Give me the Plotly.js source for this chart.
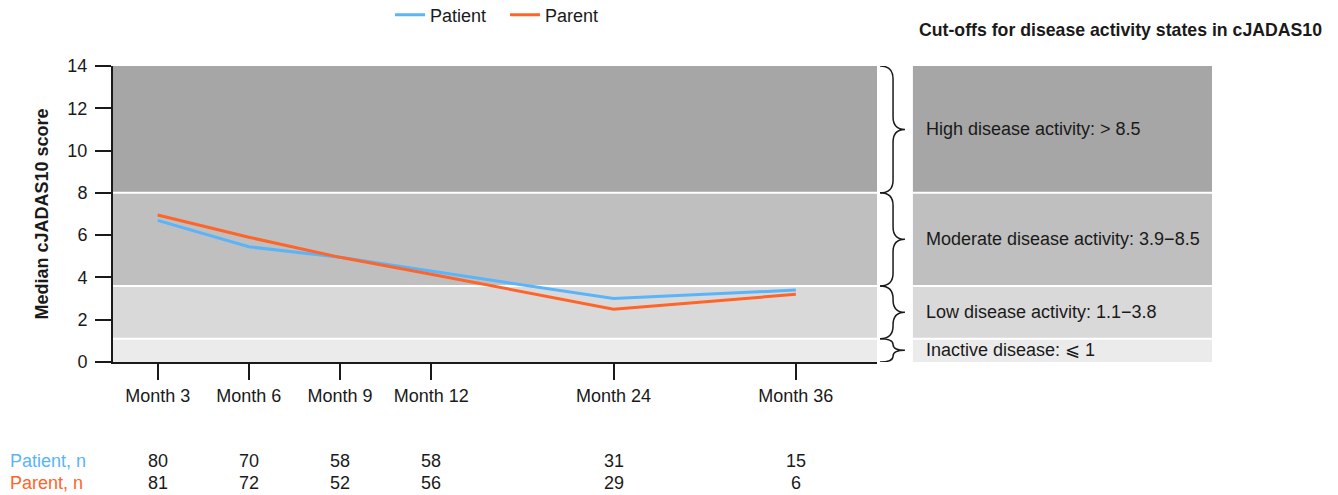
<!DOCTYPE html>
<html><head><meta charset="utf-8">
<script src="https://cdn.plot.ly/plotly-3.0.1.min.js"></script>
<style>body{margin:0;background:#fff}#chart{width:1338px;height:495px}</style>
</head><body><div id="chart"></div>
<script>
// ---- data ----
var months = ['Month 3','Month 6','Month 9','Month 12','Month 24','Month 36'];
var monthSlots = [0, 1, 2, 3, 5, 7];           // ordinal slot on the axis (12->24 and 24->36 span two slots)
var patient = [6.7, 5.45, 4.95, 4.3, 3.0, 3.4];
var parent  = [6.95, 5.9, 4.95, 4.15, 2.5, 3.2];
var patientN = [80, 70, 58, 58, 31, 15];
var parentN  = [81, 72, 52, 56, 29, 6];
var bandEdges  = [0, 1.1, 3.6, 8, 14];
var bandColors = ['#ebebeb', '#d9d9d9', '#bfbfbf', '#a6a6a6'];
var bandLabels = ['Inactive disease: \u2A7D 1', 'Low disease activity: 1.1\u22123.8',
                  'Moderate disease activity: 3.9\u22128.5', 'High disease activity: > 8.5'];
var yTicks = [0, 2, 4, 6, 8, 10, 12, 14];

var blue = '#5ab4fa', orange = '#ff6428', ink = '#1a1a1a';
var FONT = 'Liberation Sans, Arial, Helvetica, sans-serif';

var traces = [
  {x: monthSlots, y: patient, name: 'Patient', mode: 'lines', line: {color: blue, width: 3}},
  {x: monthSlots, y: parent,  name: 'Parent',  mode: 'lines', line: {color: orange, width: 3}}
];

var shapes = [], annotations = [];
// panel geometry (paper units)
var rpX0 = 1.047, rpX1 = 1.4385;
var brL = 1.004, brM = 1.021, brT = 1.0366;
for (var i = 0; i < bandColors.length; i++) {
  var lo = bandEdges[i], hi = bandEdges[i+1];
  shapes.push({type:'rect', xref:'paper', yref:'y', x0:0, x1:1, y0:lo, y1:hi,
               fillcolor:bandColors[i], line:{width:0}, layer:'below'});
  shapes.push({type:'rect', xref:'paper', yref:'y', x0:rpX0, x1:rpX1, y0:lo, y1:hi,
               fillcolor:bandColors[i], line:{width:0}, layer:'below'});
  if (i > 0) {
    shapes.push({type:'line', xref:'paper', yref:'y', x0:0, x1:1, y0:lo, y1:lo,
                 line:{color:'#ffffff', width:2}, layer:'below'});
    shapes.push({type:'line', xref:'paper', yref:'y', x0:rpX0, x1:rpX1, y0:lo, y1:lo,
                 line:{color:'#ffffff', width:2}, layer:'below'});
  }
  // brace
  var mid = (lo + hi) / 2;
  var r = Math.min(0.6, (hi - lo) / 4);
  var p = 'M' + brL + ',' + hi +
          ' Q' + brM + ',' + hi + ' ' + brM + ',' + (hi - r) +
          ' L' + brM + ',' + (mid + r) +
          ' Q' + brM + ',' + mid + ' ' + brT + ',' + mid +
          ' Q' + brM + ',' + mid + ' ' + brM + ',' + (mid - r) +
          ' L' + brM + ',' + (lo + r) +
          ' Q' + brM + ',' + lo + ' ' + brL + ',' + lo;
  shapes.push({type:'path', xref:'paper', yref:'y', path:p, line:{color:ink, width:1.5}});
  annotations.push({xref:'paper', yref:'y', x:rpX0 + 0.015, y:mid, xanchor:'left', yanchor:'middle',
                    text:bandLabels[i], showarrow:false, font:{family:FONT, size:18, color:ink}});
}

annotations.push({xref:'paper', yref:'paper', x:1.0524, y:1.122, xanchor:'left', yanchor:'middle',
                  text:'<b>Cut-offs for disease activity states in cJADAS10</b>', showarrow:false,
                  font:{family:FONT, size:17.7, color:ink}});

// n table
annotations.push({xref:'paper', yref:'paper', x:-0.1374, y:-0.3345, xanchor:'left', yanchor:'middle',
                  text:'Patient, n', showarrow:false, font:{family:FONT, size:18, color:blue}});
annotations.push({xref:'paper', yref:'paper', x:-0.1374, y:-0.4088, xanchor:'left', yanchor:'middle',
                  text:'Parent, n', showarrow:false, font:{family:FONT, size:18, color:orange}});
for (var j = 0; j < months.length; j++) {
  annotations.push({xref:'x', yref:'paper', x:monthSlots[j], y:-0.3345, xanchor:'center', yanchor:'middle',
                    text:String(patientN[j]), showarrow:false, font:{family:FONT, size:18, color:ink}});
  annotations.push({xref:'x', yref:'paper', x:monthSlots[j], y:-0.4088, xanchor:'center', yanchor:'middle',
                    text:String(parentN[j]), showarrow:false, font:{family:FONT, size:18, color:ink}});
}

var layout = {
  width: 1338, height: 495,
  margin: {l:113, r:461, t:66, b:133, pad:0, autoexpand:false},
  paper_bgcolor:'#ffffff', plot_bgcolor:'#ffffff',
  font: {family: FONT, size: 18, color: ink},
  showlegend: true,
  legend: {orientation:'h', x:0.3626, xanchor:'left', y:1.172, yanchor:'middle',
           font:{family:FONT, size:18, color:ink}, bgcolor:'rgba(0,0,0,0)', itemwidth:30,
           entrywidth:70},
  xaxis: {range:[-0.49, 7.89], tickvals: monthSlots, ticktext: months, ticks:'outside', ticklen:16,
          tickwidth:2, tickcolor:ink, showline:true, linewidth:2, linecolor:ink, showgrid:false,
          zeroline:false, fixedrange:true, tickfont:{family:FONT, size:18, color:ink}},
  yaxis: {range:[0, 14], tickvals: yTicks, ticks:'outside', ticklen:16, tickwidth:2, tickcolor:ink,
          showline:true, linewidth:2, linecolor:ink, showgrid:false, zeroline:false, fixedrange:true,
          ticklabelstandoff:4, tickfont:{family:FONT, size:18, color:ink},
          title:{text:'<b>Median cJADAS10 score</b>', font:{family:FONT, size:18, color:ink}, standoff:14}},
  shapes: shapes,
  annotations: annotations
};

Plotly.newPlot('chart', traces, layout, {displayModeBar:false, staticPlot:true});
</script>
</body></html>
